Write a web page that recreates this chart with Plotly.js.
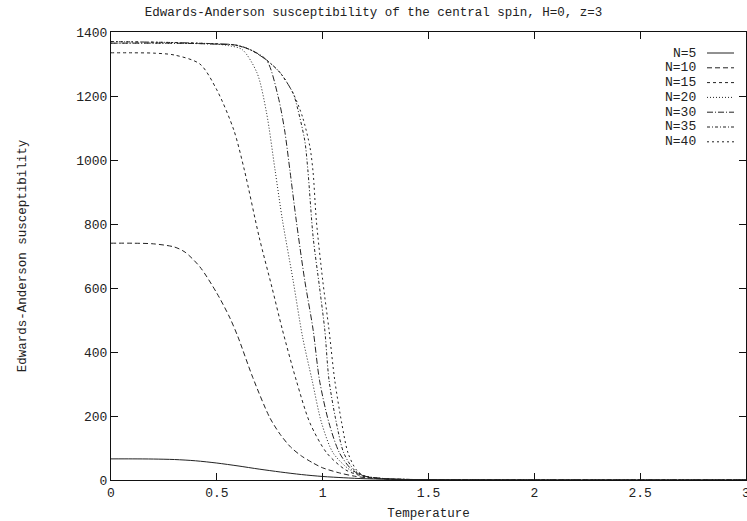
<!DOCTYPE html>
<html>
<head>
<meta charset="utf-8">
<script src="https://cdn.plot.ly/plotly-3.0.1.min.js"></script>
<style>html,body{margin:0;padding:0;background:#fff;}#chart{width:747px;height:521px;}</style>
</head>
<body>
<div id="chart"></div>
<script>
// ---- data ----
const seriesNames = ["N=5", "N=10", "N=15", "N=20", "N=30", "N=35", "N=40"];

const tN5  = [0, 0.1, 0.2, 0.3, 0.4, 0.5, 0.6, 0.7, 0.8, 0.9, 1.0, 1.1, 1.2, 1.3, 1.5, 2, 2.5, 3];
const vN5  = [66, 66, 65.5, 64, 60, 53, 44, 34, 25, 17, 11, 7, 4, 2.5, 1, 0.3, 0.1, 0.05];

const tN10 = [0, 0.1, 0.2, 0.3, 0.35, 0.42, 0.5, 0.56, 0.6, 0.67, 0.75, 0.8, 0.85, 0.9, 0.955, 1.0, 1.08, 1.15, 1.22, 1.3, 1.4, 1.6, 2, 3];
const vN10 = [740, 740, 738, 728, 712, 666, 584, 509, 447, 320, 195, 142, 102, 75, 53, 38, 22, 12, 6, 3, 1.5, 0.5, 0.2, 0.05];

const tN15 = [0, 0.1, 0.2, 0.3, 0.42, 0.5, 0.58, 0.63, 0.7, 0.76, 0.81, 0.875, 0.94, 1.02, 1.11, 1.2, 1.3, 1.5, 2, 3];
const vN15 = [1335, 1335, 1334, 1328, 1300, 1219, 1094, 969, 759, 603, 469, 312, 178, 84, 31, 10, 3, 1, 0.2, 0.05];

const tN20 = [0, 0.2, 0.4, 0.5, 0.55, 0.62, 0.69, 0.735, 0.775, 0.81, 0.86, 0.905, 0.95, 0.995, 1.05, 1.13, 1.2, 1.3, 1.5, 3];
const vN20 = [1365, 1365, 1364, 1362, 1358, 1345, 1272, 1147, 969, 812, 625, 447, 312, 178, 84, 31, 12, 4, 1, 0.05];

const tN30 = [0, 0.3, 0.5, 0.6, 0.66, 0.735, 0.79, 0.82, 0.845, 0.875, 0.915, 0.955, 0.985, 1.03, 1.08, 1.14, 1.2, 1.3, 1.5, 3];
const vN30 = [1365, 1365, 1362, 1358, 1344, 1312, 1197, 1094, 969, 812, 625, 469, 312, 178, 84, 31, 12, 4, 1, 0.05];

const tN35 = [0, 0.3, 0.5, 0.58, 0.66, 0.735, 0.8, 0.86, 0.875, 0.915, 0.93, 0.955, 0.985, 1.01, 1.03, 1.065, 1.1, 1.15, 1.2, 1.3, 1.5, 3];
const vN35 = [1370, 1367, 1363, 1360, 1344, 1312, 1272, 1209, 1178, 1062, 969, 759, 603, 469, 312, 178, 84, 31, 12, 4, 1, 0.05];

const tN40 = [0, 0.3, 0.5, 0.58, 0.66, 0.735, 0.8, 0.86, 0.905, 0.94, 0.955, 0.97, 1.0, 1.03, 1.057, 1.09, 1.12, 1.16, 1.2, 1.3, 1.5, 3];
const vN40 = [1370, 1367, 1363, 1360, 1344, 1312, 1272, 1209, 1134, 1040, 960, 812, 625, 469, 312, 178, 84, 31, 12, 4, 1, 0.05];

const xTickVals = [0, 0.5, 1, 1.5, 2, 2.5, 3];
const xTickText = ["0", "0.5", "1", "1.5", "2", "2.5", "3"];
const yTickVals = [0, 200, 400, 600, 800, 1000, 1200, 1400];

// ---- styling ----
const dashes = ["solid", "5px,3px", "3px,3px", "1px,2px", "6px,2px,1px,2px", "3px,2px,1px,2px", "2px,3px,2px,3px"];
const lineColor = "#222";
const FONT = "Liberation Mono, Courier New, monospace";

const xs = [tN5, tN10, tN15, tN20, tN30, tN35, tN40];
const ys = [vN5, vN10, vN15, vN20, vN30, vN35, vN40];

const traces = seriesNames.map((n, i) => ({
  type: "scatter", mode: "lines", name: n,
  x: xs[i], y: ys[i],
  line: {color: lineColor, width: 1, dash: dashes[i], shape: "spline", smoothing: 0.8},
  showlegend: false, hoverinfo: "skip"
}));

// manual gnuplot-style legend (text right-aligned, sample to the right)
const W = 747, H = 521, mL = 111, mR = 1, mT = 32, mB = 41;
const pw = W - mL - mR, ph = H - mT - mB;
const px = v => (v - mL) / pw;
const py = v => (H - mB - v) / ph;
const annotations = [], shapes = [];
seriesNames.forEach((n, i) => {
  const yy = 53 + i * 14.8;
  annotations.push({
    xref: "paper", yref: "paper", x: px(698), y: py(yy),
    xanchor: "right", yanchor: "middle", text: n, showarrow: false,
    font: {family: FONT, size: 13, color: "#222"}
  });
  shapes.push({
    type: "line", xref: "paper", yref: "paper",
    x0: px(707), x1: px(734), y0: py(yy), y1: py(yy),
    line: {color: lineColor, width: 1, dash: dashes[i]}
  });
});

const layout = {
  width: W, height: H,
  margin: {l: mL, r: mR, t: mT, b: mB, pad: 0},
  paper_bgcolor: "#fff", plot_bgcolor: "#fff",
  font: {family: FONT, size: 13, color: "#222"},
  title: {text: "Edwards-Anderson susceptibility of the central spin, H=0, z=3",
          x: 0.5, xref: "container", y: 0.977, yref: "container", yanchor: "middle",
          font: {family: FONT, size: 12.5, color: "#222"}},
  xaxis: {range: [0, 3], tickvals: xTickVals, ticktext: xTickText,
          ticks: "inside", ticklen: 7, tickcolor: "#111", showline: true, linecolor: "#111", linewidth: 1,
          mirror: "ticks", showgrid: false, zeroline: false, ticklabeloverflow: "allow",
          tickfont: {family: FONT, size: 13, color: "#222"},
          title: {text: "Temperature", standoff: 8, font: {family: FONT, size: 12.5, color: "#222"}}},
  yaxis: {range: [0, 1400], tickvals: yTickVals,
          ticks: "inside", ticklen: 7, tickcolor: "#111", showline: true, linecolor: "#111", linewidth: 1,
          mirror: "ticks", showgrid: false, zeroline: false,
          tickfont: {family: FONT, size: 13, color: "#222"},
          title: {text: "Edwards-Anderson susceptibility", standoff: 46, font: {family: FONT, size: 12.5, color: "#222"}}},
  annotations: annotations, shapes: shapes
};

Plotly.newPlot("chart", traces, layout, {displayModeBar: false, staticPlot: true});
</script>
</body>
</html>
